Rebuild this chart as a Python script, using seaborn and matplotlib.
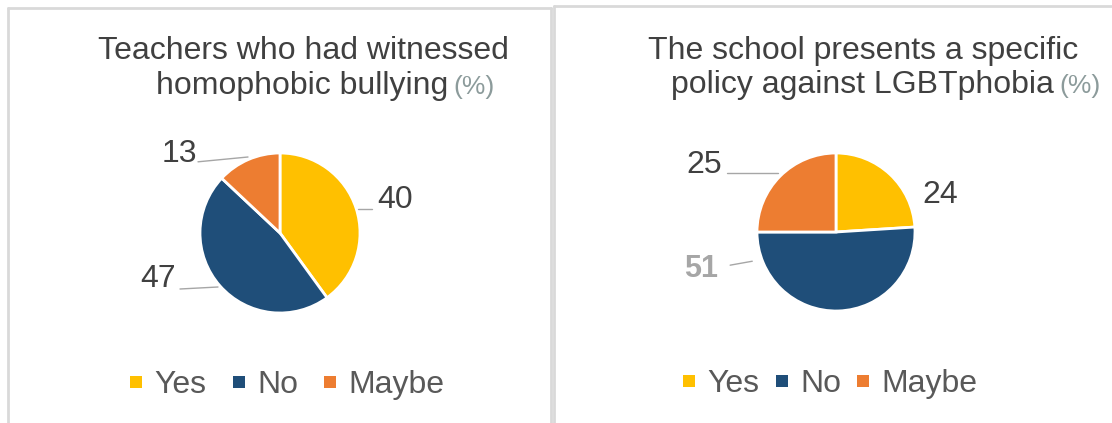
import matplotlib
matplotlib.use('Agg')
import matplotlib.pyplot as plt
import seaborn as sns
from matplotlib.lines import Line2D

# ---------------- data ----------------
categories = ['Yes', 'No', 'Maybe']
witnessed = [40, 47, 13]
policy = [24, 51, 25]
title_left = ['Teachers who had witnessed', 'homophobic bullying']
title_right = ['The school presents a specific', 'policy against LGBTphobia']
unit = '(%)'

# ---------------- style ----------------
sns.set_theme(style='white')
plt.rcParams['font.family'] = ['Liberation Sans', 'DejaVu Sans']
palette = sns.color_palette(['#FFC000', '#1F4E79', '#ED7D31'])

W, H = 1112, 423
fig = plt.figure(figsize=(W / 100, H / 100), dpi=100)
fig.patch.set_facecolor('white')

FS = 23
TXT = '#404040'
LEAD = '#A6A6A6'


def fx(x):
    return x / W


def fy(y):
    return 1 - y / H


def px_axes(cx, cy, r):
    return fig.add_axes([(cx - r) / W, (H - cy - r) / H, 2 * r / W, 2 * r / H])


def frame(x0, y0, x1, y1):
    fig.add_artist(Line2D([fx(x0), fx(x1)], [fy(y0), fy(y1)],
                          transform=fig.transFigure, color='#D9D9D9', lw=2))


# panel frames
frame(8, 8, 8, H + 5)
frame(8, 8, 551, 8)
frame(551, 8, 551, H + 5)
frame(554, 6, 554, H + 5)
frame(554, 6, W + 5, 6)

# layout: label anchor (x center, baseline y) in radius units, and leader lines
left_layout = dict(center=(280, 233), r=80,
                   labels=[(1.44, 0.31), (-1.525, -0.675), (-1.26, 0.89)],
                   leaders=[((0.975, 0.30), (1.15, 0.30)),
                            ((-0.775, -0.675), (-1.25, -0.70)),
                            ((-0.40, 0.95), (-1.025, 0.89))],
                   label_style=[{}, {}, {}],
                   title_x=(303, 302), title_y=(59, 94),
                   legend=(287, 385), colsp=0.8)
right_layout = dict(center=(836, 232), r=79,
                    labels=[(1.32, 0.37), (-1.71, -0.57), (-1.67, 0.75)],
                    leaders=[None,
                             ((-1.06, -0.37), (-1.34, -0.42)),
                             ((-0.73, 0.75), (-1.38, 0.75))],
                    label_style=[{}, dict(color='#A6A6A6', fontweight='bold', fontsize=22), {}],
                    title_x=(863, 862), title_y=(59, 93),
                    legend=(830, 384), colsp=0.5)


def draw_panel(values, titles, lay):
    cx, cy = lay['center']
    ax = px_axes(cx, cy, lay['r'])
    ax.pie(values, colors=palette, startangle=90, counterclock=False,
           wedgeprops=dict(edgecolor='white', linewidth=2))
    ax.set_xlim(-1, 1)
    ax.set_ylim(-1, 1)
    ax.set_aspect('equal')
    ax.axis('off')
    for v, pos, lead, st in zip(values, lay['labels'], lay['leaders'], lay['label_style']):
        kw = dict(fontsize=FS, color=TXT)
        kw.update(st)
        ax.text(pos[0], pos[1], str(v), ha='center', va='baseline', **kw)
        if lead is not None:
            ax.plot([lead[0][0], lead[1][0]], [lead[0][1], lead[1][1]],
                    color=LEAD, lw=1, clip_on=False)
    tx1, tx2 = lay['title_x']
    y1, y2 = lay['title_y']
    fig.text(fx(tx1), fy(y1), titles[0], ha='center', va='baseline',
             fontsize=FS, color=TXT)
    t2 = fig.text(fx(tx2), fy(y2), titles[1], ha='center', va='baseline',
                  fontsize=FS, color=TXT)
    fig.canvas.draw()
    fig.add_artist(matplotlib.text.Annotation(
        unit, xy=(1, fy(y2)), xycoords=(t2, 'figure fraction'),
        xytext=(4, 0), textcoords='offset points', ha='left', va='baseline',
        fontsize=19, color='#8C9B9B', annotation_clip=False))
    handles = [Line2D([], [], marker='s', linestyle='', markersize=9,
                      markeredgewidth=0, color=c) for c in palette]
    lx, ly = lay['legend']
    fig.legend(handles, categories, loc='center', bbox_to_anchor=(fx(lx), fy(ly)),
               ncol=3, frameon=False, fontsize=FS, handlelength=0.4,
               handletextpad=0.375, columnspacing=lay['colsp'],
               labelcolor='#595959', borderpad=0, borderaxespad=0)


draw_panel(witnessed, title_left, left_layout)
draw_panel(policy, title_right, right_layout)

fig.savefig('out.png', dpi=100, facecolor='white')
